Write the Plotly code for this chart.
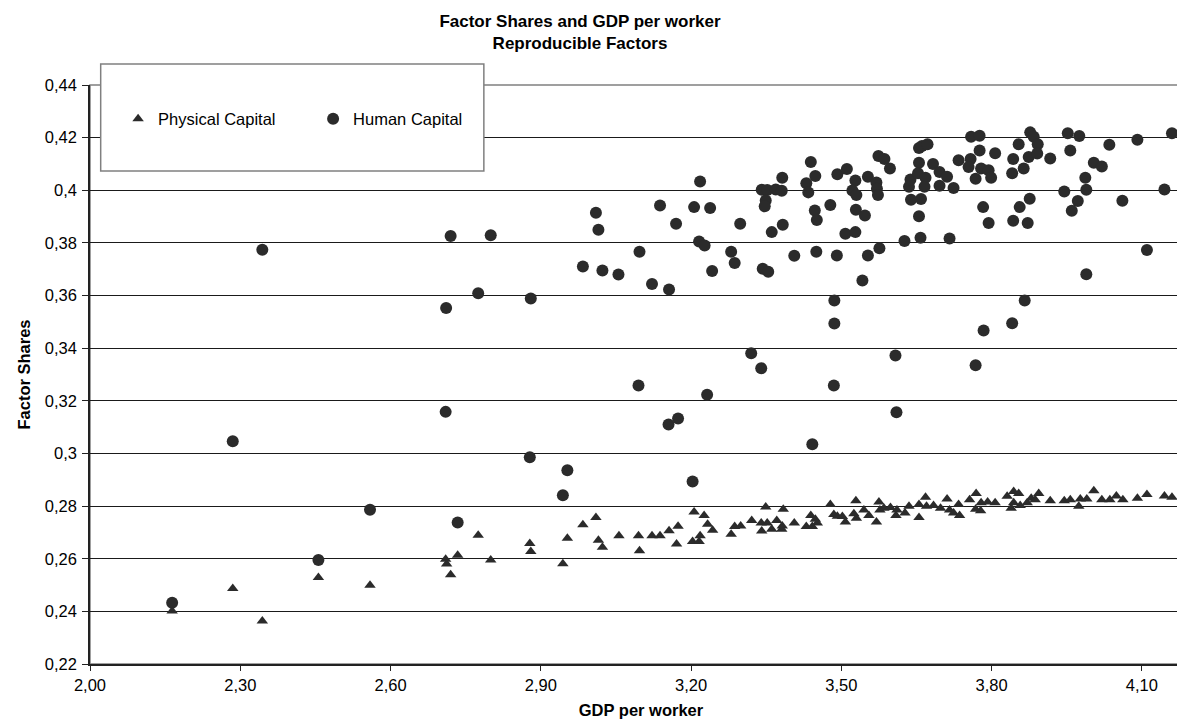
import plotly.graph_objects as go

# ---------------- data ----------------
phys_x = [2.164, 2.285, 2.344, 2.456, 2.559, 2.710, 2.712, 2.720, 2.734, 2.775, 2.800,
          2.878, 2.880, 2.944, 2.953, 2.984, 3.010, 3.015, 3.023, 3.056, 3.095, 3.097, 3.122,
          3.138, 3.156, 3.174, 3.171, 3.206, 3.203, 3.218, 3.216, 3.226, 3.233, 3.243, 3.280,
          3.287, 3.299, 3.321, 3.349, 3.340, 3.341, 3.352, 3.361, 3.371, 3.382, 3.384, 3.381,
          3.406, 3.430, 3.439, 3.448, 3.442, 3.452, 3.478, 3.485, 3.492, 3.502, 3.508,
          3.525, 3.529, 3.530, 3.545, 3.555, 3.570, 3.575, 3.577, 3.585, 3.598, 3.609, 3.611,
          3.627, 3.635, 3.655, 3.655, 3.668, 3.670, 3.684, 3.698, 3.711, 3.716, 3.724, 3.734,
          3.736, 3.756, 3.769, 3.768, 3.778, 3.779, 3.792, 3.807, 3.831, 3.844, 3.854, 3.839,
          3.844, 3.857, 3.871, 3.879, 3.887, 3.894, 3.917, 3.945, 3.957, 3.974, 3.977, 3.990,
          4.004, 4.020, 4.036, 4.049, 4.062, 4.091, 4.110, 4.145, 4.160]
phys_y = [0.2401, 0.2487, 0.2363, 0.2529, 0.2499, 0.2598, 0.2580, 0.2539, 0.2613, 0.2689, 0.2595,
          0.2658, 0.2627, 0.2581, 0.2678, 0.2729, 0.2757, 0.2670, 0.2644, 0.2687, 0.2687, 0.2630, 0.2687,
          0.2687, 0.2706, 0.2723, 0.2656, 0.2778, 0.2665, 0.2687, 0.2665, 0.2764, 0.2731, 0.2708, 0.2693,
          0.2722, 0.2724, 0.2745, 0.2797, 0.2736, 0.2705, 0.2736, 0.2712, 0.2745, 0.2724, 0.2788, 0.2712,
          0.2736, 0.2722, 0.2764, 0.2750, 0.2722, 0.2736, 0.2806, 0.2768, 0.2761, 0.2760, 0.2740,
          0.2771, 0.2820, 0.2754, 0.2785, 0.2764, 0.2740, 0.2816, 0.2785, 0.2792, 0.2795, 0.2764, 0.2785,
          0.2774, 0.2799, 0.2757, 0.2806, 0.2834, 0.2799, 0.2802, 0.2792, 0.2827, 0.2785, 0.2774, 0.2806,
          0.2764, 0.2824, 0.2848, 0.2788, 0.2782, 0.2813, 0.2816, 0.2813, 0.2837, 0.2855, 0.2848, 0.2792,
          0.2813, 0.2802, 0.2813, 0.2830, 0.2824, 0.2848, 0.2820, 0.2820, 0.2824, 0.2799, 0.2827, 0.2827,
          0.2858, 0.2824, 0.2824, 0.2838, 0.2824, 0.2830, 0.2844, 0.2838, 0.2834]

hum_x = [2.164, 2.344, 2.285, 2.456, 2.559, 2.720, 2.800, 2.775, 2.711, 2.710, 2.734,
         2.880, 2.878, 2.953, 2.944, 3.010, 3.015, 2.984, 3.023, 3.055, 3.097, 3.095, 3.138,
         3.122, 3.156, 3.170, 3.155, 3.174, 3.203, 3.218, 3.206, 3.238, 3.216, 3.227, 3.242,
         3.232, 3.280, 3.287, 3.298, 3.320, 3.340, 3.341, 3.352, 3.349, 3.347, 3.361, 3.343,
         3.354, 3.369, 3.382, 3.381, 3.383, 3.406, 3.439, 3.448, 3.430, 3.434, 3.447, 3.451,
         3.450, 3.442, 3.478, 3.492, 3.508, 3.491, 3.486, 3.486, 3.485,
         3.511, 3.528, 3.522, 3.530, 3.528, 3.529, 3.547, 3.553, 3.570, 3.571, 3.573, 3.574,
         3.586, 3.597, 3.553, 3.576, 3.542, 3.608, 3.610, 3.626, 3.635, 3.638, 3.639, 3.655,
         3.661, 3.672, 3.655, 3.653, 3.668, 3.666, 3.659, 3.655, 3.658, 3.683, 3.696, 3.711,
         3.696, 3.724, 3.716, 3.734, 3.758, 3.754, 3.759, 3.776, 3.776, 3.779, 3.794, 3.799,
         3.768, 3.807, 3.783, 3.794, 3.784, 3.768, 3.843, 3.841, 3.854, 3.864, 3.874, 3.877,
         3.884, 3.892, 3.891, 3.917, 3.856, 3.876, 3.843, 3.872, 3.866, 3.841, 3.952, 3.975,
         3.957, 3.945, 3.972, 3.960, 3.987, 3.989, 4.004, 4.020, 4.035, 3.989, 4.061, 4.091,
         4.110, 4.145, 4.160]
hum_y = [0.2433, 0.3774, 0.3046, 0.2595, 0.2786, 0.3826, 0.3829, 0.3609, 0.3553, 0.3158, 0.2738,
         0.3589, 0.2986, 0.2936, 0.2841, 0.3915, 0.3850, 0.3710, 0.3695, 0.3680, 0.3766, 0.3258, 0.3942,
         0.3644, 0.3623, 0.3873, 0.3110, 0.3133, 0.2893, 0.4033, 0.3936, 0.3933, 0.3805, 0.3790, 0.3693,
         0.3223, 0.3766, 0.3724, 0.3873, 0.3381, 0.3324, 0.4002, 0.4001, 0.3961, 0.3939, 0.3841, 0.3702,
         0.3690, 0.4003, 0.4048, 0.3998, 0.3869, 0.3751, 0.4107, 0.4054, 0.4027, 0.3992, 0.3923, 0.3887,
         0.3766, 0.3035, 0.3944, 0.4061, 0.3835, 0.3752, 0.3581, 0.3494, 0.3258,
         0.4081, 0.4037, 0.3999, 0.3982, 0.3841, 0.3926, 0.3904, 0.4051, 0.4030, 0.4006, 0.3982, 0.4130,
         0.4119, 0.4083, 0.3752, 0.3780, 0.3657, 0.3372, 0.3157, 0.3807, 0.4013, 0.4041, 0.3964, 0.4161,
         0.4168, 0.4175, 0.4105, 0.4065, 0.4048, 0.4013, 0.3967, 0.3901, 0.3820, 0.4100, 0.4069, 0.4051,
         0.4017, 0.4009, 0.3817, 0.4114, 0.4119, 0.4088, 0.4203, 0.4207, 0.4151, 0.4083, 0.4076, 0.4048,
         0.4044, 0.4141, 0.3936, 0.3876, 0.3467, 0.3335, 0.4119, 0.4065, 0.4175, 0.4083, 0.4126, 0.4220,
         0.4203, 0.4175, 0.4140, 0.4121, 0.3936, 0.3968, 0.3884, 0.3876, 0.3581, 0.3495, 0.4217, 0.4206,
         0.4151, 0.3995, 0.3959, 0.3922, 0.4048, 0.4002, 0.4105, 0.4090, 0.4173, 0.3681, 0.3960, 0.4192,
         0.3773, 0.4003, 0.4217]

x_tick_vals = [2.0, 2.3, 2.6, 2.9, 3.2, 3.5, 3.8, 4.1]
x_tick_labels = ["2,00", "2,30", "2,60", "2,90", "3,20", "3,50", "3,80", "4,10"]
y_tick_vals = [0.22, 0.24, 0.26, 0.28, 0.30, 0.32, 0.34, 0.36, 0.38, 0.40, 0.42, 0.44]
y_tick_labels = ["0,22", "0,24", "0,26", "0,28", "0,3", "0,32", "0,34", "0,36", "0,38", "0,4", "0,42", "0,44"]

FONT = "Liberation Sans, Arial, Helvetica, sans-serif"
MARK = "#2b2b2b"

fig = go.Figure()
fig.add_trace(go.Scatter(
    x=phys_x, y=phys_y, mode="markers", name="Physical Capital",
    marker=dict(symbol="triangle-up", size=10, color=MARK, line=dict(width=0)),
))
fig.add_trace(go.Scatter(
    x=hum_x, y=hum_y, mode="markers", name="Human Capital",
    marker=dict(symbol="circle", size=12, color=MARK, line=dict(width=0)),
))

fig.update_layout(
    width=1185, height=726,
    margin=dict(l=82, r=1, t=77, b=70, autoexpand=False),
    paper_bgcolor="white", plot_bgcolor="white",
    font=dict(family=FONT, size=16.5, color="black"),
    title=dict(
        text="<b>Factor Shares and GDP per worker</b><br><b>Reproducible Factors</b>",
        x=572 / 1185, xref="container", xanchor="center",
        y=1 - 19 / 726, yref="container", yanchor="middle",
        font=dict(family=FONT, size=17, color="black"),
        automargin=False,
    ),
    showlegend=True,
    legend=dict(
        orientation="h", x=0.0255, xanchor="left", y=0.9413, yanchor="middle",
        bgcolor="rgba(0,0,0,0)", borderwidth=0,
        font=dict(family=FONT, size=16.5, color="black"),
        entrywidth=150, entrywidthmode="pixels",
    ),
    shapes=[
        dict(type="rect", xref="paper", yref="paper", x0=0, x1=1, y0=0, y1=1,
             line=dict(color="#808080", width=1.5), layer="below"),
        dict(type="rect", xref="paper", yref="paper", x0=0.0097, x1=0.3574, y0=0.8516, y1=1.0363,
             line=dict(color="#808080", width=1.5), fillcolor="white", layer="above"),
    ],
)

fig.update_xaxes(
    range=[2.0, 4.2], tickmode="array", tickvals=x_tick_vals, ticktext=x_tick_labels,
    showgrid=False, zeroline=False, automargin=False,
    showline=True, linecolor="#222222", linewidth=1.5,
    ticks="outside", ticklen=5, tickcolor="#222222", tickwidth=1,
    title=dict(text="<b>GDP per worker</b>", font=dict(family=FONT, size=16.5, color="black"), standoff=12),
    tickfont=dict(family=FONT, size=16.5, color="black"),
)
fig.update_yaxes(
    range=[0.22, 0.44], tickmode="array", tickvals=y_tick_vals, ticktext=y_tick_labels,
    showgrid=True, gridcolor="#1a1a1a", gridwidth=1, zeroline=False, automargin=False,
    showline=True, linecolor="#222222", linewidth=1.5,
    ticks="outside", ticklen=6, tickcolor="#222222", tickwidth=1, ticklabelstandoff=2,
    title=dict(text="<b>Factor Shares</b>", font=dict(family=FONT, size=16.5, color="black"), standoff=10),
    tickfont=dict(family=FONT, size=16.5, color="black"),
)

fig.write_html("out.html")
